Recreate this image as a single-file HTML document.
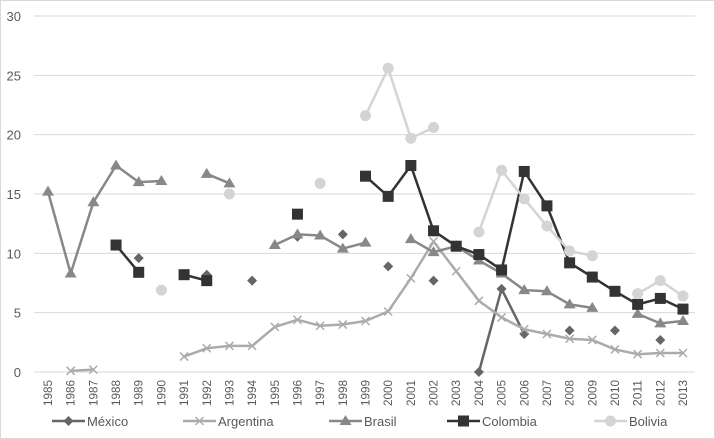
<!DOCTYPE html>
<html><head><meta charset="utf-8"><style>
body{margin:0;background:#fff;}
svg{display:block;font-family:"Liberation Sans",sans-serif;}
</style></head><body>
<svg id="chart" width="715" height="439" viewBox="0 0 715 439" xmlns="http://www.w3.org/2000/svg">
<rect x="0.5" y="0.5" width="714" height="438" fill="#fff" stroke="#d9d9d9"/>
<g id="grid"></g><g id="series"></g><g id="axes"></g><g id="legend"></g>
</svg>
<script>
const years = [1985,1986,1987,1988,1989,1990,1991,1992,1993,1994,1995,1996,1997,1998,1999,2000,2001,2002,2003,2004,2005,2006,2007,2008,2009,2010,2011,2012,2013];
const yTicks = [0,5,10,15,20,25,30];
const seriesNames = ["México","Argentina","Brasil","Colombia","Bolivia"];
const mexico = [null,null,null,null,9.6,null,null,8.2,null,7.7,null,11.4,null,11.6,null,8.9,null,7.7,null,0,7.0,3.2,null,3.5,null,3.5,null,2.7,null];
const argentina = [null,0.1,0.2,null,null,null,1.3,2.0,2.2,2.2,3.8,4.4,3.9,4.0,4.3,5.1,7.9,11.0,8.5,6.0,4.6,3.6,3.2,2.8,2.7,1.9,1.5,1.6,1.6];
const brasil = [15.2,8.3,14.3,17.4,16.0,16.1,null,16.7,15.9,null,10.7,11.6,11.5,10.4,10.9,null,11.2,10.1,10.6,9.4,8.3,6.9,6.8,5.7,5.4,null,4.9,4.1,4.3];
const colombia = [null,null,null,10.7,8.4,null,8.2,7.7,null,null,null,13.3,null,null,16.5,14.8,17.4,11.9,10.6,9.9,8.6,16.9,14.0,9.2,8.0,6.8,5.7,6.2,5.3];
const bolivia = [null,null,null,null,null,6.9,null,null,15.0,null,null,null,15.9,null,21.6,25.6,19.7,20.6,null,11.8,17.0,14.6,12.3,10.2,9.8,null,6.6,7.7,6.4];

const NS="http://www.w3.org/2000/svg";
const X0=34,X1=695,Y0=372,Y30=16;
function xs(i){return 48+i*(683-48)/(years.length-1);}
function ys(v){return Y0-(v/30)*(Y0-Y30);}
function el(t,a,p){const e=document.createElementNS(NS,t);for(const k in a)e.setAttribute(k,a[k]);p.appendChild(e);return e;}
const grid=document.getElementById('grid'),axes=document.getElementById('axes'),ser=document.getElementById('series'),leg=document.getElementById('legend');
yTicks.forEach(t=>{
  const l=el('line',{x1:X0,x2:X1,y1:ys(t),y2:ys(t),stroke:'#d9d9d9','stroke-width':1},grid);
  
  
  const tx=el('text',{x:21,y:ys(t)+5,'text-anchor':'end','font-size':13,fill:'#595959'},axes);
  tx.textContent=t;
  
  
});
years.forEach((y,i)=>{
  const tx=el('text',{x:0,y:0,'text-anchor':'end','font-size':12,fill:'#595959',transform:`translate(${xs(i)+4},380) rotate(-90)`,textLength:26,lengthAdjust:'spacingAndGlyphs'},axes);
  tx.textContent=y;
  
  
});
const styles=[
 {data:mexico,color:'#666666',m:'diamond',w:2.5},
 {data:argentina,color:'#ababab',m:'x',w:2.5},
 {data:brasil,color:'#888888',m:'tri',w:2.5},
 {data:colombia,color:'#333333',m:'sq',w:2.5},
 {data:bolivia,color:'#d4d4d4',m:'circ',w:2.5}];
function marker(g,m,x,y,c){
  let e;
  if(m==='diamond')e=el('polygon',{points:`${x},${y-5} ${x+5},${y} ${x},${y+5} ${x-5},${y}`,fill:c},g);
  else if(m==='x'){e=el('path',{d:`M${x-4},${y-4}L${x+4},${y+4}M${x-4},${y+4}L${x+4},${y-4}`,stroke:c,'stroke-width':1.5},g);}
  else if(m==='tri')e=el('polygon',{points:`${x},${y-6} ${x+6},${y+4} ${x-6},${y+4}`,fill:c},g);
  else if(m==='sq')e=el('rect',{x:x-5.5,y:y-5.5,width:11,height:11,fill:c},g);
  else e=el('circle',{cx:x,cy:y,r:5.5,fill:c},g);
  return e;
}
styles.forEach((s,si)=>{
  const g=el('g',{},ser);
  
  
  for(let i=1;i<years.length;i++){
    if(s.data[i]!=null&&s.data[i-1]!=null){
      const l=el('line',{x1:xs(i-1),y1:ys(s.data[i-1]),x2:xs(i),y2:ys(s.data[i]),stroke:s.color,'stroke-width':s.w},g);
      
      
    }
  }
  s.data.forEach((v,i)=>{
    if(v==null)return;
    const m=marker(g,s.m,xs(i),ys(v),s.color);
    
    
  });
});
const legX=[52,183,329,447,594];
styles.forEach((s,si)=>{
  const g=el('g',{},leg);
  
  
  const y=421,x=legX[si];
  el('line',{x1:x,x2:x+33,y1:y,y2:y,stroke:s.color,'stroke-width':2.5},g);
  marker(g,s.m,x+16.5,y,s.color);
  const t=el('text',{x:x+35,y:y+5,'font-size':13,fill:'#595959'},g);
  t.textContent=seriesNames[si];
});
</script>
</body></html>
